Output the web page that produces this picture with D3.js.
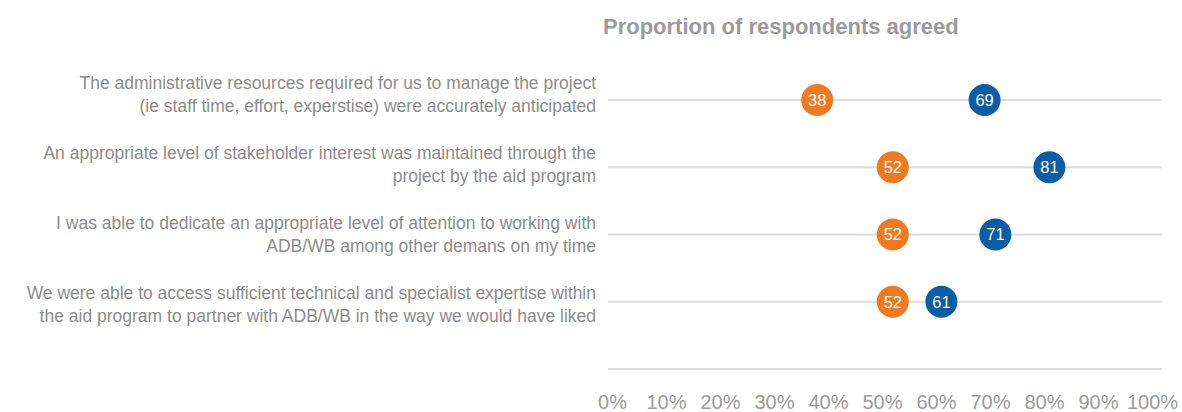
<!DOCTYPE html>
<html>
<head>
<meta charset="utf-8">
<script src="https://cdn.jsdelivr.net/npm/d3@7"></script>
<style>
  body { margin: 0; background: #fff; }
  svg { display: block; font-family: "Liberation Sans", Arial, sans-serif; }
</style>
</head>
<body>
<svg id="chart" width="1182" height="412"></svg>
<script>
var statements = [
  ["The administrative resources required for us to manage the project",
   "(ie staff time, effort, experstise) were accurately anticipated"],
  ["An appropriate level of stakeholder interest was maintained through the",
   "project by the aid program"],
  ["I was able to dedicate an appropriate level of attention to working with",
   "ADB/WB among other demans on my time"],
  ["We were able to access sufficient technical and specialist expertise within",
   "the aid program to partner with ADB/WB in the way we would have liked"]
];
var orangeValues = [38, 52, 52, 52];
var blueValues = [69, 81, 71, 61];
var ticks = [0, 10, 20, 30, 40, 50, 60, 70, 80, 90, 100];

var svg = d3.select('#chart');

var x = d3.scaleLinear().domain([0, 100]).range([612, 1152]);
var y = d3.scalePoint().domain(d3.range(5)).range([100, 369]);
// label blocks sit a little off the row lines
var yLabel = d3.scalePoint().domain(d3.range(4)).range([94, 304]);

// title
svg.append('text')
  .attr('x', 603)
  .attr('y', 34)
  .attr('fill', '#9b9b9b')
  .attr('font-weight', 'bold')
  .attr('font-size', 22)
  .text('Proportion of respondents agreed');

// grid lines (one per row + empty bottom one)
svg.selectAll('line.grid')
  .data(d3.range(5))
  .enter().append('line')
  .attr('class', 'grid')
  .attr('x1', x(0) - 4)
  .attr('x2', x(100) + 10)
  .attr('y1', function(d) { return y(d); })
  .attr('y2', function(d) { return y(d); })
  .attr('stroke', '#dcdcdc')
  .attr('stroke-width', 2);

// row labels
statements.forEach(function(lines, i) {
  var t = svg.append('text')
    .attr('text-anchor', 'end')
    .attr('fill', '#8c8c8c')
    .attr('font-size', 17.5);
  lines.forEach(function(line, j) {
    t.append('tspan')
      .attr('x', 596)
      .attr('y', yLabel(i) - 5.5 + j * 23)
      .text(line);
  });
});

// x axis
var axis = d3.axisBottom(x)
  .tickValues(ticks)
  .tickSize(0)
  .tickPadding(0)
  .tickFormat(function(d) { return d + '%'; });

var gAxis = svg.append('g')
  .attr('transform', 'translate(0,' + 402 + ')')
  .call(axis);
gAxis.select('.domain').remove();
gAxis.selectAll('text')
  .attr('dy', '0.35em')
  .attr('y', 0)
  .attr('fill', '#9b9b9b')
  .attr('font-size', 20)
  .attr('font-family', '"Liberation Sans", Arial, sans-serif');

function drawDots(values, color) {
  var g = svg.append('g');
  var dot = g.selectAll('g')
    .data(values)
    .enter().append('g')
    .attr('transform', function(d, i) { return 'translate(' + x(d) + ',' + y(i) + ')'; });
  dot.append('circle')
    .attr('r', 16)
    .attr('fill', color);
  dot.append('text')
    .attr('text-anchor', 'middle')
    .attr('dy', '0.36em')
    .attr('fill', '#fff')
    .attr('font-size', 16.5)
    .text(function(d) { return d; });
}

drawDots(orangeValues, '#f07a21');
drawDots(blueValues, '#0c5ca6');
</script>
</body>
</html>
